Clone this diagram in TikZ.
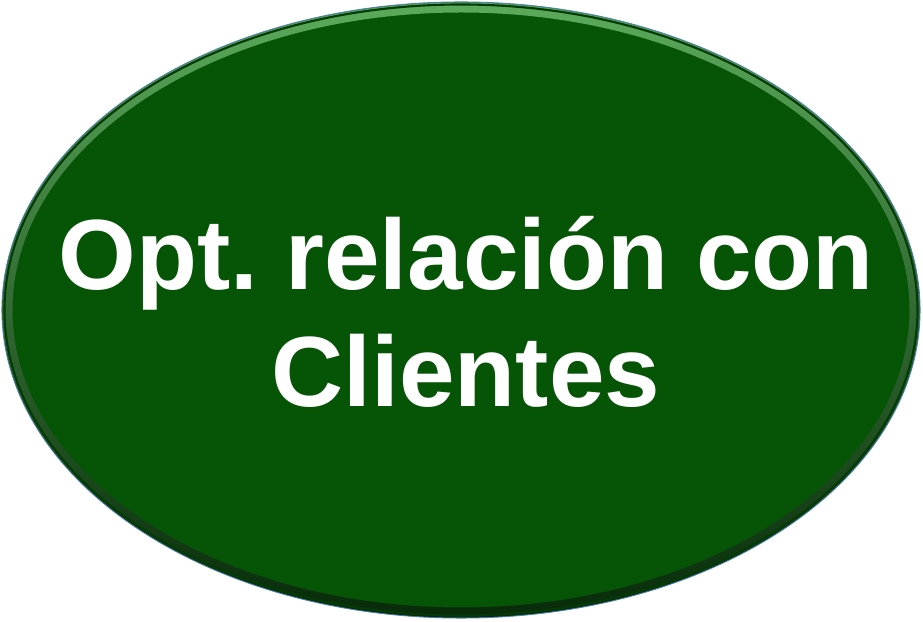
\documentclass[tikz,border=0pt]{standalone}
\usepackage{fontspec}
\setmainfont{Liberation Sans}
\usetikzlibrary{shapes.geometric}
\definecolor{cgreen}{HTML}{065507}
\definecolor{clight}{HTML}{5BAA5B}
\definecolor{cdark}{HTML}{082A0A}
\definecolor{cedge}{HTML}{4F7DB8}
\frenchspacing
\tikzset{
  every picture/.style={font=\bfseries},
  bubble/.style={ellipse, fill=cgreen, draw=cedge, line width=0.6pt, inner sep=0pt,
    minimum width=18.36cm, minimum height=12.32cm},
  caption/.style={text=white, align=center, font=\bfseries\fontsize{56.8}{67}\selectfont},
}
\begin{document}
\begin{tikzpicture}
  \useasboundingbox (0,0) rectangle (18.46,12.44);
  \node[bubble] (opt) at (9.22,6.24) {};
  % bevel round the rim
  \begin{scope}
    \clip (opt.center) ellipse (9.17cm and 6.15cm);
    \shade[even odd rule, shading angle=30, top color=clight, middle color=cgreen, bottom color=cdark]
      (opt.center) ellipse (9.17cm and 6.15cm) (opt.center) ellipse (8.97cm and 5.95cm);
    \draw[cgreen!70!black, line width=1.2pt] (opt.center) ellipse (9.13cm and 6.11cm);
  \end{scope}
  \node[caption] (label) at (9.32,6.2) {Opt. relación con\\Clientes};
\end{tikzpicture}
\end{document}
